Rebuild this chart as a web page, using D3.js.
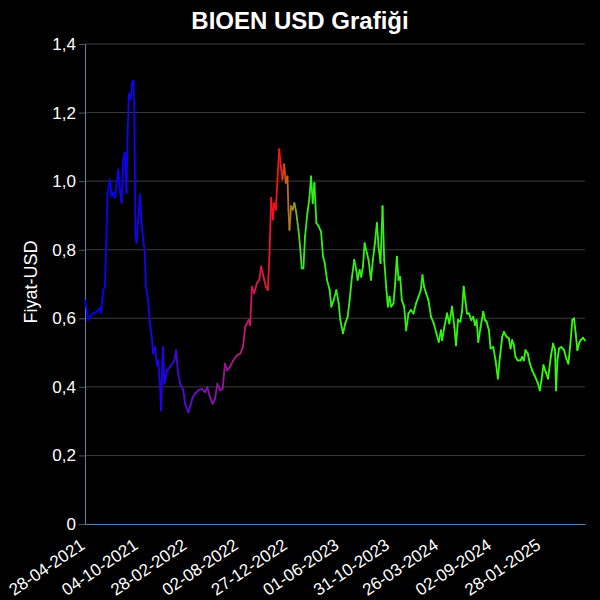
<!DOCTYPE html>
<html>
<head>
<meta charset="utf-8">
<script src="https://cdn.jsdelivr.net/npm/d3@7"></script>
<style>
  body { margin: 0; background: #000; }
  svg { display: block; }
</style>
</head>
<body>
<div id="chart-area"></div>
<script>
// tarihler ve fiyatlar
var dates = [
  "28-04-2021","08-05-2021","13-05-2021","23-05-2021","02-06-2021","12-06-2021","15-06-2021","22-06-2021","27-06-2021",
  "05-07-2021","12-07-2021","17-07-2021","22-07-2021","27-07-2021","01-08-2021","06-08-2021","11-08-2021","16-08-2021",
  "21-08-2021","26-08-2021","31-08-2021","03-09-2021","07-09-2021","12-09-2021","17-09-2021","21-09-2021","23-09-2021",
  "27-09-2021","30-09-2021","05-10-2021","10-10-2021","15-10-2021","20-10-2021","25-10-2021","28-10-2021","04-11-2021",
  "09-11-2021","15-11-2021","19-11-2021","25-11-2021","30-11-2021","04-12-2021","10-12-2021","13-12-2021","18-12-2021",
  "23-12-2021","30-12-2021","09-01-2022","16-01-2022","22-01-2022","27-01-2022","01-02-2022","08-02-2022","18-02-2022",
  "23-02-2022","05-03-2022","10-03-2022","18-03-2022","25-03-2022","04-04-2022","14-04-2022","24-04-2022","01-05-2022",
  "09-05-2022","17-05-2022","24-05-2022","31-05-2022","08-06-2022","16-06-2022","23-06-2022","30-06-2022","08-07-2022",
  "18-07-2022","29-07-2022","08-08-2022","16-08-2022","23-08-2022","02-09-2022","07-09-2022","12-09-2022","19-09-2022",
  "27-09-2022","04-10-2022","10-10-2022","17-10-2022","24-10-2022","30-10-2022","04-11-2022","09-11-2022","14-11-2022",
  "18-11-2022","23-11-2022","28-11-2022","03-12-2022","08-12-2022","13-12-2022","18-12-2022","23-12-2022","28-12-2022",
  "31-12-2022","03-01-2023","08-01-2023","13-01-2023","18-01-2023","23-01-2023","30-01-2023","04-02-2023","09-02-2023",
  "14-02-2023","19-02-2023","26-02-2023","04-03-2023","09-03-2023","14-03-2023","19-03-2023","25-03-2023","01-04-2023",
  "08-04-2023","14-04-2023","19-04-2023","26-04-2023","04-05-2023","09-05-2023","16-05-2023","24-05-2023","31-05-2023",
  "05-06-2023","13-06-2023","20-06-2023","27-06-2023","03-07-2023","10-07-2023","17-07-2023","23-07-2023","27-07-2023",
  "02-08-2023","07-08-2023","12-08-2023","17-08-2023","24-08-2023","29-08-2023","05-09-2023","11-09-2023","17-09-2023",
  "23-09-2023","28-09-2023","04-10-2023","10-10-2023","15-10-2023","21-10-2023","26-10-2023","31-10-2023","05-11-2023",
  "12-11-2023","17-11-2023","22-11-2023","27-11-2023","02-12-2023","07-12-2023","14-12-2023","20-12-2023","27-12-2023",
  "03-01-2024","11-01-2024","19-01-2024","26-01-2024","02-02-2024","07-02-2024","12-02-2024","18-02-2024","25-02-2024",
  "04-03-2024","12-03-2024","20-03-2024","27-03-2024","03-04-2024","06-04-2024","13-04-2024","21-04-2024","28-04-2024",
  "06-05-2024","13-05-2024","18-05-2024","24-05-2024","31-05-2024","05-06-2024","10-06-2024","15-06-2024","20-06-2024",
  "26-06-2024","03-07-2024","09-07-2024","14-07-2024","19-07-2024","24-07-2024","31-07-2024","08-08-2024","13-08-2024",
  "18-08-2024","25-08-2024","30-08-2024","07-09-2024","14-09-2024","21-09-2024","27-09-2024","04-10-2024","09-10-2024",
  "17-10-2024","24-10-2024","29-10-2024","03-11-2024","08-11-2024","13-11-2024","20-11-2024","28-11-2024","03-12-2024",
  "08-12-2024","13-12-2024","20-12-2024","26-12-2024","02-01-2025","09-01-2025","18-01-2025","25-01-2025","30-01-2025",
  "05-02-2025","12-02-2025","19-02-2025","27-02-2025","06-03-2025","12-03-2025","15-03-2025","19-03-2025","24-03-2025",
  "31-03-2025","08-04-2025","15-04-2025","21-04-2025","26-04-2025","03-05-2025","08-05-2025","13-05-2025","18-05-2025",
  "23-05-2025","28-05-2025","04-06-2025","10-06-2025"
];
var prices = [
  0.653,0.595,0.604,0.615,0.619,0.630,0.615,0.682,0.692,
  0.966,1.005,0.956,0.966,0.952,0.990,1.034,0.975,0.937,
  1.063,1.083,0.966,1.131,1.254,1.239,1.288,1.293,1.219,
  0.839,0.820,0.888,0.961,0.879,0.829,0.790,0.692,0.653,
  0.586,0.546,0.497,0.516,0.463,0.477,0.399,0.331,0.516,
  0.410,0.448,0.458,0.469,0.477,0.507,0.448,0.409,0.390,
  0.351,0.326,0.341,0.370,0.380,0.390,0.394,0.385,0.399,
  0.370,0.351,0.365,0.409,0.390,0.394,0.468,0.448,0.458,
  0.477,0.492,0.497,0.516,0.575,0.595,0.580,0.692,0.673,
  0.702,0.712,0.751,0.721,0.692,0.682,0.790,0.951,0.888,
  0.936,0.917,1.005,1.093,1.044,1.005,1.049,0.995,1.014,
  0.917,0.858,0.927,0.917,0.936,0.912,0.858,0.810,0.746,
  0.746,0.840,0.907,0.950,1.014,0.936,0.995,0.878,0.868,
  0.853,0.780,0.761,0.712,0.682,0.634,0.653,0.682,0.644,
  0.595,0.556,0.585,0.604,0.653,0.721,0.770,0.741,0.712,
  0.741,0.721,0.751,0.819,0.790,0.770,0.712,0.770,0.819,
  0.878,0.809,0.761,0.927,0.770,0.692,0.634,0.663,0.634,
  0.644,0.702,0.780,0.712,0.721,0.653,0.634,0.565,0.614,
  0.624,0.614,0.644,0.663,0.682,0.726,0.692,0.673,0.653,
  0.604,0.585,0.556,0.531,0.565,0.536,0.575,0.614,0.585,
  0.634,0.575,0.521,0.595,0.590,0.619,0.692,0.653,0.614,
  0.614,0.595,0.604,0.580,0.595,0.531,0.575,0.619,0.595,
  0.590,0.565,0.512,0.516,0.477,0.424,0.487,0.546,0.560,
  0.546,0.541,0.512,0.536,0.521,0.487,0.477,0.477,0.487,
  0.477,0.507,0.497,0.468,0.448,0.434,0.414,0.390,0.419,
  0.463,0.443,0.424,0.487,0.526,0.507,0.390,0.477,0.512,
  0.516,0.507,0.482,0.468,0.516,0.595,0.600,0.556,0.507,
  0.526,0.536,0.543,0.535
];
var tickDates = ["28-04-2021","04-10-2021","28-02-2022","02-08-2022","27-12-2022",
                 "01-06-2023","31-10-2023","26-03-2024","02-09-2024","28-01-2025"];
var yTicks = [0, 0.2, 0.4, 0.6, 0.8, 1.0, 1.2, 1.4];
// renk gecisi (zamana gore)
var colorDates = ["28-04-2021","15-12-2021","01-04-2022","15-08-2022","01-11-2022",
                  "05-12-2022","28-12-2022","20-01-2023","08-02-2023","12-06-2025"];
var colorValues = ["#0000ff","#2000f0","#7010c8","#b8187c","#f01430",
                   "#ff1010","#c06818","#90a020","#30f018","#33ff00"];

var parse = d3.timeParse("%d-%m-%Y");
var fmtDate = d3.timeFormat("%d-%m-%Y");
var data = dates.map(function(d, i){ return {date: parse(d), price: prices[i]}; });

var margin = {top: 44, right: 15, bottom: 76, left: 85};
var width = 600 - margin.left - margin.right;
var height = 600 - margin.top - margin.bottom;
var font = "Liberation Sans, Arial, sans-serif";

var svg = d3.select("#chart-area").append("svg")
    .attr("width", 600)
    .attr("height", 600)
    .style("background", "#000");

svg.append("text")
    .attr("x", 300)
    .attr("y", 29)
    .attr("text-anchor", "middle")
    .attr("font-family", font)
    .attr("font-size", "24px")
    .attr("font-weight", "bold")
    .style("fill", "#fff")
    .text("BIOEN USD Grafiği");

var g = svg.append("g")
    .attr("transform", "translate(" + margin.left + ", " + margin.top + ")");

var x = d3.scaleTime()
    .domain(d3.extent(data, function(d){ return d.date; }))
    .range([0, width]);
var y = d3.scaleLinear()
    .domain([0, 1.4])
    .range([height, 0]);
var color = d3.scaleLinear()
    .domain(colorDates.map(parse))
    .range(colorValues)
    .interpolate(d3.interpolateRgb);

var locale = d3.formatLocale({decimal: ",", thousands: ".", grouping: [3], currency: ["", ""]});
var f1 = locale.format(".1f");

// yatay izgara
g.append("g").selectAll("line")
    .data(yTicks.slice(1))
    .enter().append("line")
    .attr("x1", 0).attr("x2", width)
    .attr("y1", function(d){ return y(d); })
    .attr("y2", function(d){ return y(d); })
    .attr("stroke", "#3c3c3c")
    .attr("stroke-width", 1);

var yAxisGroup = g.append("g")
    .call(d3.axisLeft(y).tickValues(yTicks).tickSize(6).tickPadding(3)
        .tickFormat(function(d){ return d === 0 ? "0" : f1(d); }));
yAxisGroup.select(".domain").attr("stroke", "#4f88b8");
yAxisGroup.selectAll(".tick line").attr("stroke", "#555");
yAxisGroup.selectAll("text")
    .attr("fill", "#fff")
    .attr("font-size", "17px")
    .attr("font-family", font);

var xAxisGroup = g.append("g")
    .attr("transform", "translate(0, " + height + ")")
    .call(d3.axisBottom(x).tickValues(tickDates.map(parse)).tickSize(0).tickFormat(fmtDate));
xAxisGroup.select(".domain").attr("stroke", "#4f88b8");
xAxisGroup.selectAll("text")
    .attr("fill", "#fff")
    .attr("font-size", "17px")
    .attr("font-family", font)
    .attr("text-anchor", "end")
    .attr("dx", "-0.75em")
    .attr("dy", "1.0em")
    .attr("transform", "rotate(-34)");

g.append("text")
    .attr("x", -(height / 2) + 2)
    .attr("y", -48)
    .attr("font-size", "18px")
    .attr("font-family", font)
    .attr("text-anchor", "middle")
    .attr("transform", "rotate(-90)")
    .style("fill", "#fff")
    .text("Fiyat-USD");

// cizgi: her parca kendi renginde
var segs = d3.pairs(data);
g.append("g").selectAll("line")
    .data(segs)
    .enter().append("line")
    .attr("x1", function(d){ return x(d[0].date); })
    .attr("y1", function(d){ return y(d[0].price); })
    .attr("x2", function(d){ return x(d[1].date); })
    .attr("y2", function(d){ return y(d[1].price); })
    .attr("stroke", function(d){ return color(new Date((+d[0].date + +d[1].date) / 2)); })
    .attr("stroke-width", 1.8)
    .attr("stroke-linecap", "round");
</script>
</body>
</html>
